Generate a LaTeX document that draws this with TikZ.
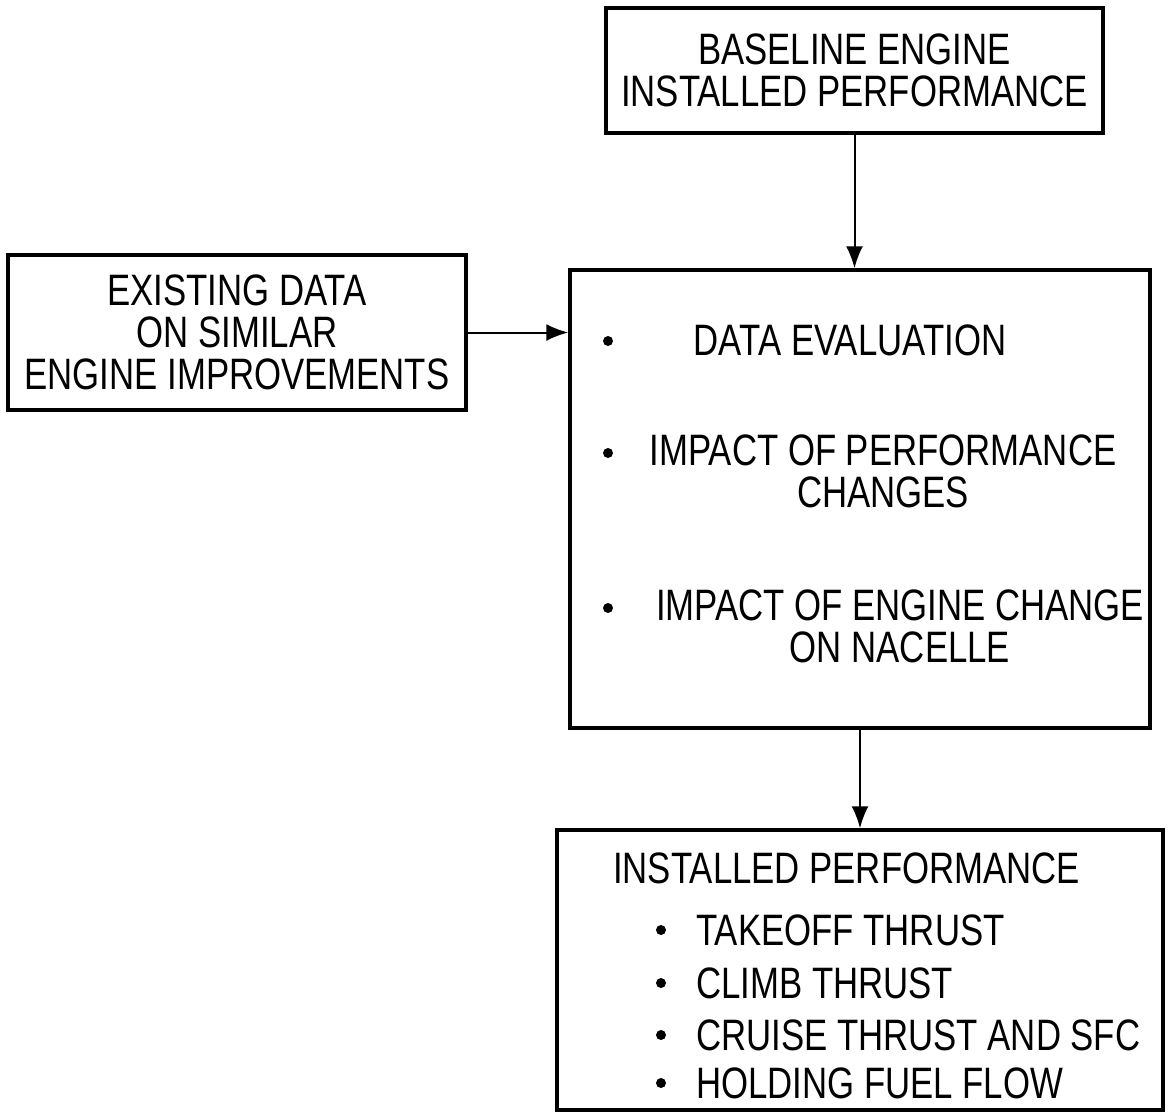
\documentclass[tikz,border=0pt]{standalone}
\usepackage{fontspec}
\setmainfont{Liberation Sans}[FakeStretch=0.79]
\usetikzlibrary{arrows.meta}
\usetikzlibrary{positioning}

\tikzset{
    blk/.style={draw, line width=3.5pt, inner sep=0pt},
    txt/.style={font=\fontsize{44}{42}\selectfont, inner sep=0pt, align=center},
    dot/.style={circle, fill, inner sep=0pt, minimum size=10pt},
    flow/.style={line width=2pt, -{Latex[length=22pt,width=17pt]}}
}

\begin{document}
\begin{tikzpicture}[x=1pt,y=-1pt]
            \useasboundingbox (0,0) rectangle (1172,1117);

            \coordinate (B) at (854.5,70.5);
            \coordinate (X) at (237,332.5);
            \coordinate (V) at (860,499);
            \coordinate (I) at (860,970);

            \node[blk, txt, minimum width=497pt, minimum height=125pt] (base) at (B)
                {BASELINE ENGINE\\INSTALLED PERFORMANCE};
            \node[blk, txt, minimum width=458pt, minimum height=155pt] (exist) at (X)
                {EXISTING DATA\\ON SIMILAR\\ENGINE IMPROVEMENTS};
            \node[blk, minimum width=580pt, minimum height=458pt] (eval) at (V) {};
            \node[blk, minimum width=606pt, minimum height=280pt] (inst) at (I) {};

            % items of the evaluation box
            \node[txt] (dataeval) at (850,340) {DATA EVALUATION};
            \node[txt] (perfchg) at (883,471) {IMPACT OF PERFORMANCE\\CHANGES};
            \node[txt] (nacelle) at (900,626) {IMPACT OF ENGINE CHANGE\\ON NACELLE};
            \foreach \y/\n in {341/a,453/b,608/c}{
                \node[dot] (dot\n) at (608,\y) {};
            }

            % items of the result box
            \node[txt, anchor=west] (insttitle) at (613,868) {INSTALLED PERFORMANCE};
            \foreach \y/\t/\n in {930/TAKEOFF THRUST/a,983/CLIMB THRUST/b,1035/CRUISE THRUST AND SFC/c,1083/HOLDING FUEL FLOW/d}{
                \node[dot] (idot\n) at (661,\y) {};
                \node[txt, anchor=west] (item\n) at (696,\y) {\t};
            }

            \draw[flow] (base.south) -- (base.south |- eval.north);
            \draw[flow] (exist.east) -- (exist.east -| eval.west);
            \draw[flow] (eval.south) -- (inst.north);
        \end{tikzpicture}
\end{document}
